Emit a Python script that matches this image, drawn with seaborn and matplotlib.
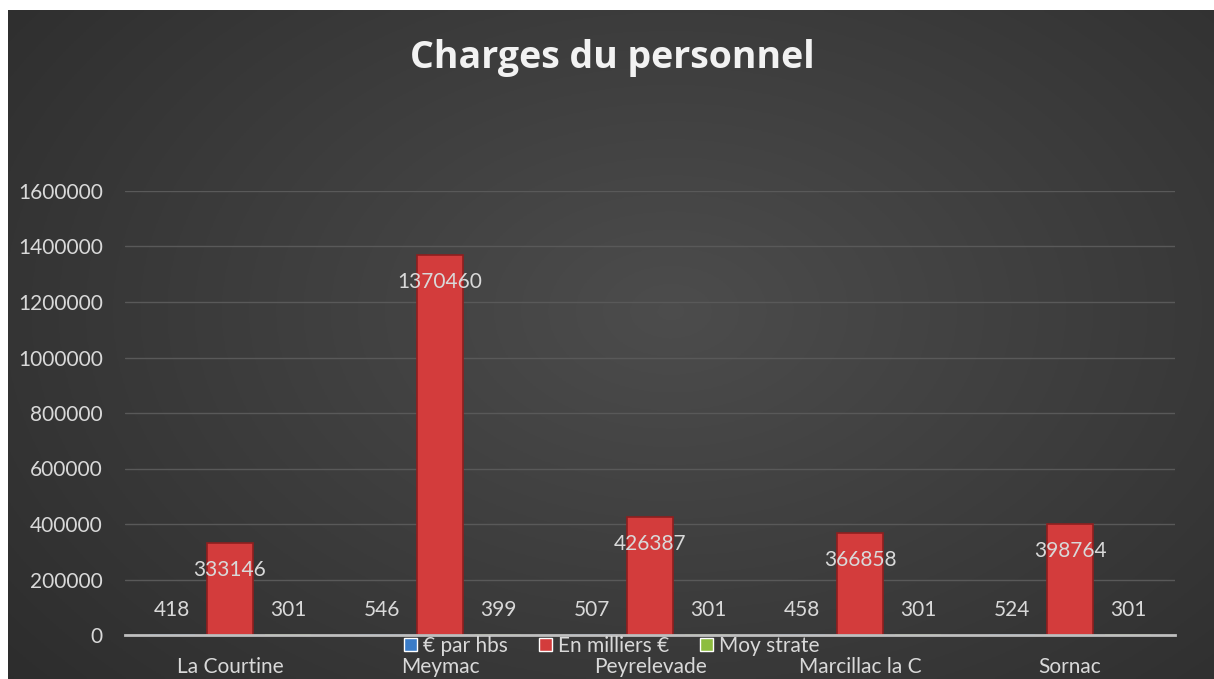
"""
Charges du personnel - grouped bar chart on dark background
"""

import matplotlib
matplotlib.use("Agg")
import matplotlib.pyplot as plt
import seaborn as sns
import numpy as np
import pandas as pd

# --- data -------------------------------------------------------------
communes = ["La Courtine", "Meymac", "Peyrelevade", "Marcillac la C", "Sornac"]
series_names = ["€ par hbs", "En milliers €", "Moy strate"]
par_hbs = [418, 546, 507, 458, 524]
milliers = [333146, 1370460, 426387, 366858, 398764]
moy_strate = [301, 399, 301, 301, 301]
y_ticks = [0, 200000, 400000, 600000, 800000, 1000000, 1200000, 1400000, 1600000]
colors = ["#3a7cc8", "#d33c3c", "#8dbd3f"]

df = pd.DataFrame({
    "commune": communes * 3,
    "serie": [s for s in series_names for _ in communes],
    "valeur": par_hbs + milliers + moy_strate,
})

sns.set_theme(style="dark")
plt.rcParams["font.family"] = ["Lato", "DejaVu Sans"]

W, H = 1214, 679
fig = plt.figure(figsize=(W / 100, H / 100), dpi=100)
fig.patch.set_facecolor("white")

# dark radial gradient background (chart area)
bg = fig.add_axes([8 / W, 0, 1 - 8 / W, 1 - 10 / H])
gx, gy = np.meshgrid(np.linspace(0, 1, 400), np.linspace(0, 1, 240))
r = np.sqrt(((gx - 0.55) / 0.75) ** 2 + ((gy - 0.45) / 0.9) ** 2)
shade = np.clip(0.30 - 0.13 * r, 0.15, 0.30)
bg.imshow(np.dstack([shade] * 3), aspect="auto", extent=[0, 1, 0, 1])
bg.set_axis_off()

ax = fig.add_axes([125 / W, 1 - 635 / H, 1050 / W, (635 - 191) / H])
ax.set_facecolor("none")

sns.barplot(
    data=df, x="commune", y="valeur", hue="serie",
    order=communes, hue_order=series_names, palette=colors,
    width=0.83, errorbar=None, saturation=1, ax=ax,
)

# narrow bars inside their slots, darker edge for the bevel look
edge = {"#3a7cc8": "#1f4f8a", "#d33c3c": "#8e1f1f", "#8dbd3f": "#5a7f22"}
slot = 0.83 / 3
for i, cont in enumerate(ax.containers):
    vals = [par_hbs, milliers, moy_strate][i]
    for bar, v in zip(cont, vals):
        cx = bar.get_x() + bar.get_width() / 2
        w = slot * 46 / 58
        bar.set_x(cx - w / 2)
        bar.set_width(w)
        bar.set_edgecolor(edge[colors[i]])
        bar.set_linewidth(1.2)
        if i == 1:
            ax.annotate(f"{v}", (cx, v), xytext=(0, -27), textcoords="offset pixels",
                        ha="center", va="center", fontsize=15, color="#d9d9d9")
        else:
            ax.annotate(f"{v}", (cx, v), xytext=(0, 25), textcoords="offset pixels",
                        ha="center", va="center", fontsize=15, color="#d9d9d9")

ax.set_ylim(0, 1600000)
ax.set_xlim(-0.5, len(communes) - 0.5)
ax.set_yticks(y_ticks)
ax.set_yticklabels([str(t) for t in y_ticks])
ax.yaxis.grid(True, color="#595959", linewidth=1)
ax.xaxis.grid(False)
ax.set_axisbelow(True)
for s in ["top", "right", "left"]:
    ax.spines[s].set_visible(False)
ax.spines["bottom"].set_color("#bfbfbf")
ax.spines["bottom"].set_linewidth(2)
ax.tick_params(axis="y", length=0, pad=16, labelsize=15, labelcolor="#d9d9d9")
ax.tick_params(axis="x", length=0, pad=16, labelsize=15, labelcolor="#d9d9d9")
ax.set_xlabel("")
ax.set_ylabel("")

leg = ax.legend(
    loc="center", bbox_to_anchor=(0.504, 1 - 646 / H), bbox_transform=fig.transFigure,
    ncol=3, frameon=False, fontsize=15, labelcolor="#d9d9d9",
    handlelength=0.6, handleheight=0.6, handletextpad=0.3, columnspacing=1.5,
    borderaxespad=0,
)

fig.text(0.504, 1 - 58 / H, "Charges du personnel", ha="center", va="center",
         fontsize=27, fontweight="bold", color="#f2f2f2", family=["Open Sans", "DejaVu Sans"])

fig.savefig("out.png", dpi=100)
plt.close(fig)
